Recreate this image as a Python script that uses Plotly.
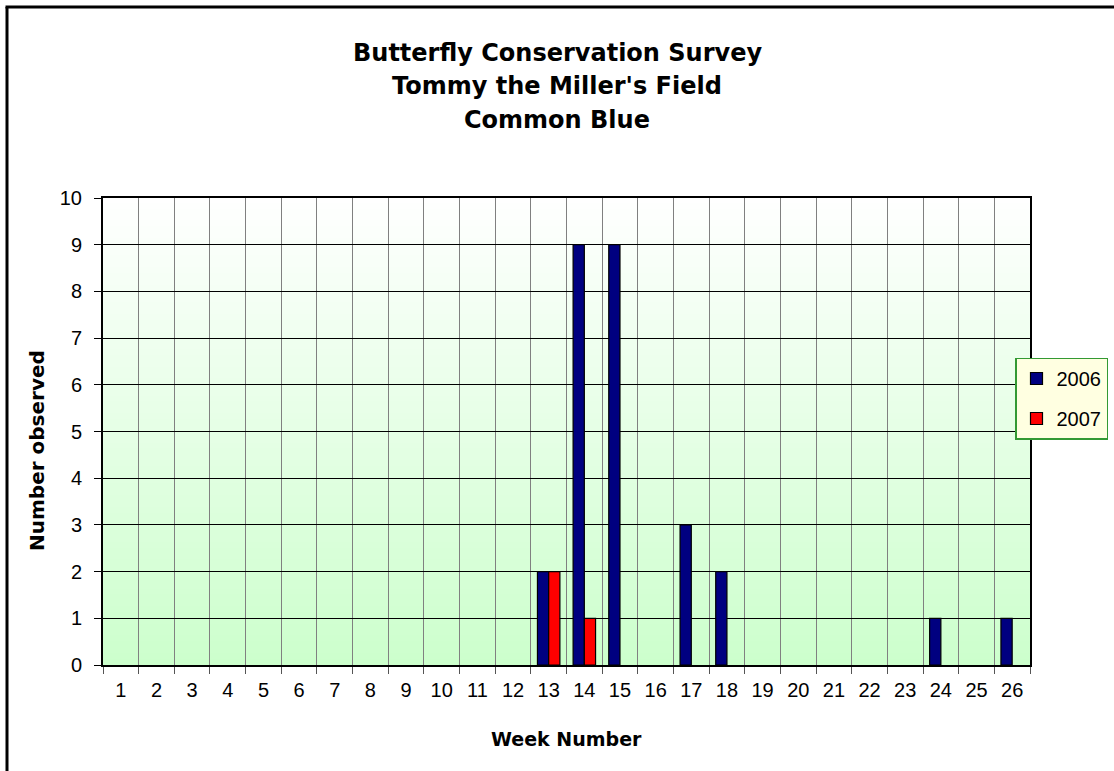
import plotly.graph_objects as go

weeks = [str(i) for i in range(1, 27)]
counts_2006 = [0]*12 + [2, 9, 9, 0, 3, 2, 0, 0, 0, 0, 0, 1, 0, 1]
counts_2007 = [0]*12 + [2, 1, 0, 0, 0, 0, 0, 0, 0, 0, 0, 0, 0, 0]
title_lines = ["Butterfly Conservation Survey", "Tommy the Miller's Field", "Common Blue"]

W, H = 1114, 771
L, R, T, B = 103, 84, 198, 106
pw, ph = W - L - R, H - T - B


def px(x):
    return (x - L) / pw


def py(y):
    return (H - B - y) / ph


BOLD = "DejaVu Sans, sans-serif"
REG = "Liberation Sans, Arial, sans-serif"

fig = go.Figure()
fig.add_trace(go.Bar(x=weeks, y=[v if v else None for v in counts_2006], name="2006",
                     legendgroup="a",
                     marker=dict(color="#000080", line=dict(color="black", width=1.2))))
fig.add_trace(go.Bar(x=weeks, y=[v if v else None for v in counts_2007], name="2007",
                     legendgroup="b",
                     marker=dict(color="#FF0000", line=dict(color="black", width=1.2))))

# gradient background bands
n = 80
shapes = []
c0 = (255, 255, 255)
c1 = (204, 255, 204)
for i in range(n):
    t = (i + 0.5) / n
    r = round(c0[0] + (c1[0] - c0[0]) * t)
    g = round(c0[1] + (c1[1] - c0[1]) * t)
    b = round(c0[2] + (c1[2] - c0[2]) * t)
    shapes.append(dict(type="rect", xref="paper", yref="paper",
                       x0=0, x1=1, y0=1 - (i + 1) / n, y1=1 - i / n + 0.002,
                       fillcolor=f"rgb({r},{g},{b})", line=dict(width=0), layer="below"))

# outer chart border (top and left visible)
shapes.append(dict(type="line", xref="paper", yref="paper", x0=px(7), x1=px(7), y0=-1, y1=py(7),
                   line=dict(color="black", width=3)))
shapes.append(dict(type="line", xref="paper", yref="paper", x0=px(5.5), x1=3, y0=py(7), y1=py(7),
                   line=dict(color="black", width=3)))

annotations = []
for txt, yc in zip(title_lines, [53, 86, 120]):
    annotations.append(dict(text=f"<b>{txt}</b>", xref="paper", yref="paper",
                            x=px(557), y=py(yc), xanchor="center", yanchor="middle",
                            showarrow=False, font=dict(family=BOLD, size=24, color="black")))
annotations.append(dict(text="<b>Number observed</b>", xref="paper", yref="paper",
                        x=px(37), y=py(451), xanchor="center", yanchor="middle", textangle=-90,
                        showarrow=False, font=dict(family=BOLD, size=20, color="black")))
annotations.append(dict(text="<b>Week Number</b>", xref="paper", yref="paper",
                        x=px(566), y=py(739), xanchor="center", yanchor="middle",
                        showarrow=False, font=dict(family=BOLD, size=19, color="black")))

fig.update_layout(
    width=W, height=H,
    margin=dict(l=L, r=R, t=T, b=B, autoexpand=False),
    paper_bgcolor="white",
    plot_bgcolor="rgba(0,0,0,0)",
    barmode="group",
    bargap=0.37,
    bargroupgap=0,
    font=dict(family=REG, size=20, color="black"),
    shapes=shapes,
    annotations=annotations,
    legend=dict(xref="container", yref="container", x=1015 / W, xanchor="left",
                y=1 - 398.5 / H, yanchor="middle",
                bgcolor="#FFFFE1", bordercolor="#339933", borderwidth=1.5,
                font=dict(family=REG, size=20), traceorder="grouped", itemwidth=30,
                tracegroupgap=11),
    xaxis=dict(type="category", tickson="boundaries", showgrid=True, gridcolor="#808080",
               gridwidth=1.3, ticks="outside", ticklen=7, tickcolor="#555", tickwidth=1.3,
               showline=True, linecolor="black", linewidth=2, mirror=True,
               ticklabelstandoff=6, tickfont=dict(size=20)),
    yaxis=dict(range=[0, 10], dtick=1, showgrid=True, gridcolor="black", gridwidth=1,
               ticks="outside", ticklen=7, tickcolor="black",
               showline=True, linecolor="black", linewidth=2, mirror=True, zeroline=False,
               ticklabelstandoff=8, tickfont=dict(size=20)),
)

fig.write_html("out.html", config={"displayModeBar": False},
               post_script="document.body.style.margin='0';")
